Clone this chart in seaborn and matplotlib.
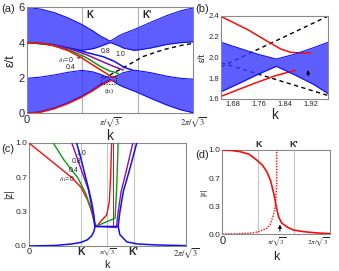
import numpy as np
import pandas as pd
import matplotlib
matplotlib.use("Agg")
import matplotlib.pyplot as plt
import seaborn as sns
from matplotlib.patches import Rectangle

sns.set_theme(style="white")
plt.rcParams["font.family"] = ["Liberation Sans", "DejaVu Sans"]
plt.rcParams["mathtext.fontset"] = "stix"

KMAX = 2 * np.pi / np.sqrt(3)
KPT = 2 * np.pi / (3 * np.sqrt(3))
KPR = 4 * np.pi / (3 * np.sqrt(3))
HALF = np.pi / np.sqrt(3)

BLUE = "#1010f0"
BANDC = "#3a3aff"
RED = "#f01010"
GREEN = "#119911"
PURPLE = "#8a10a8"

# ---------------- panel (a) data ----------------
band_k = [0, 0.3, 0.6, 0.9, 1.2, 1.45, 1.6, 1.7, 1.76, 1.81, 1.86, 1.92, 2.0, 2.1, 2.35, 2.7, 3.05, 3.35, 3.628]
lower_top = [1.98, 2.05, 2.17, 2.32, 2.43, 2.34, 2.21, 2.11, 2.05, 1.99, 2.03, 2.09, 2.17, 2.30, 2.44, 2.30, 2.10, 1.98, 1.93]
lower_bot = [0.0, 0.1, 0.3, 0.6, 0.97, 1.35, 1.62, 1.75, 1.84, 1.91, 1.85, 1.76, 1.62, 1.5, 1.25, 0.85, 0.47, 0.2, 0.03]
upper_top = [6.0, 5.9, 5.7, 5.4, 5.03, 4.65, 4.38, 4.25, 4.16, 4.09, 4.15, 4.24, 4.38, 4.5, 4.75, 5.15, 5.53, 5.8, 5.97]
upper_bot = [4.02, 3.95, 3.83, 3.68, 3.57, 3.66, 3.79, 3.89, 3.95, 4.01, 3.97, 3.91, 3.83, 3.70, 3.56, 3.70, 3.90, 4.0, 4.05]

red_top_k = [0, 0.3, 0.6, 0.9, 1.16, 1.4, 1.642, 1.726, 1.787, 1.828, 1.859, 1.89, 1.92]
red_top_e = [4.0, 3.96, 3.82, 3.55, 3.2, 2.8, 2.40, 2.27, 2.157, 2.083, 2.05, 2.044, 2.045]
red_bot_k = [0, 0.3, 0.6, 0.9, 1.2, 1.45, 1.642, 1.747, 1.808, 1.859, 1.874]
red_bot_e = [0.0, 0.06, 0.26, 0.55, 0.92, 1.3, 1.622, 1.75, 1.82, 1.865, 1.875]
green_k = [0, 0.5, 1.0, 1.3, 1.6, 1.81, 1.95, 2.0]
green_e = [4.0, 3.9, 3.5, 3.15, 2.66, 2.39, 2.3, 2.22]
purple_k = [0, 0.5, 1.0, 1.3, 1.6, 1.85, 2.1]
purple_e = [4.0, 3.92, 3.6, 3.32, 2.98, 2.7, 2.45]
blue_k = [0, 0.5, 1.0, 1.4, 1.67, 1.9, 2.14, 2.3]
blue_e = [4.0, 3.93, 3.65, 3.38, 3.2, 2.95, 2.58, 2.45]
dash_k = [1.66, 1.975, 2.2, 2.54, 2.975, 3.41, 3.628]
dash_e = [1.935, 2.40, 2.72, 3.22, 3.60, 3.87, 3.96]

# ---------------- panel (b) data ----------------
b_k = [1.645, 1.70, 1.76, 1.815, 1.87, 1.93, 1.975]
b_top = [2.147, 2.09, 2.03, 1.985, 2.03, 2.095, 2.147]
b_bot = [1.67, 1.75, 1.84, 1.915, 1.835, 1.74, 1.65]
b_up_k = [1.645, 1.975]
b_up_e = [1.91, 2.40]
b_dn_k = [1.645, 1.975]
b_dn_e = [1.95, 1.633]

# ---------------- panel (c) data ----------------
c_red_k = [0, 0.5, 1.0, 1.2, 1.35, 1.45, 1.52, 1.564, 1.68, 1.795, 1.856, 1.888, 1.91]
c_red_z = [1.0, 0.83, 0.66, 0.57, 0.45, 0.33, 0.22, 0.19, 0.25, 0.30, 0.43, 0.69, 1.0]
c_red2_k = [1.934, 1.934]
c_red2_z = [0.2, 1.0]
c_green_k = [0.56, 0.8, 1.13, 1.3, 1.42, 1.5, 1.54, 1.99, 2.03, 2.06]
c_green_z = [1.0, 0.84, 0.66, 0.52, 0.38, 0.25, 0.19, 0.27, 0.6, 1.0]
c_purple_k = [0.99, 1.2, 1.37, 1.45, 1.52, 2.02, 2.06, 2.13, 2.26, 2.40]
c_purple_z = [1.0, 0.75, 0.55, 0.38, 0.19, 0.18, 0.33, 0.53, 0.75, 1.0]
c_blue_k = [1.10, 1.2, 1.3, 1.38, 1.45, 1.5, 1.525, 2.06, 2.10, 2.18, 2.33, 2.49]
c_blue_z = [1.0, 0.85, 0.68, 0.55, 0.42, 0.3, 0.19, 0.19, 0.33, 0.53, 0.75, 1.0]
c_blue_lo_k = [0, 0.6, 1.0, 1.2, 1.35, 1.45, 1.5, 1.525]
c_blue_lo_z = [0.0, 0.005, 0.02, 0.035, 0.06, 0.1, 0.14, 0.19]
c_blue_ro_k = [2.06, 2.10, 2.26, 2.5, 2.95, 3.628]
c_blue_ro_z = [0.19, 0.11, 0.04, 0.02, 0.01, 0.003]

# ---------------- panel (d) data ----------------
d_k = [0, 0.3, 0.6, 0.9, 1.16, 1.35, 1.5, 1.62, 1.72, 1.78, 1.82, 1.85, 1.9, 2.0, 2.2, 2.39, 2.7, 2.95, 3.3, 3.628]
d_solid = [1.0, 0.995, 0.98, 0.95, 0.88, 0.82, 0.74, 0.64, 0.50, 0.40, 0.32, 0.27, 0.2, 0.13, 0.08, 0.048, 0.03, 0.02, 0.01, 0.005]
d_dot_k = [0, 0.5, 0.94, 1.2, 1.5, 1.62, 1.72, 1.78, 1.81, 1.83, 1.83]
d_dot_z = [0.0, 0.003, 0.01, 0.025, 0.067, 0.12, 0.23, 0.33, 0.45, 0.6, 1.0]

ztick_vals = [0, 1 / 3, 2 / 3, 1.0]
ztick_labels = ["0.0", "0.3", "0.7", "1.0"]


def line(ax, k, v, color, lw=1.0, ls="-", z=3):
    sns.lineplot(x=k, y=v, ax=ax, color=color, lw=lw, linestyle=ls, sort=False,
                 estimator=None, legend=False, zorder=z)


def style(ax):
    for s in ax.spines.values():
        s.set_color("#8a8a8a")
        s.set_linewidth(0.8)
    ax.tick_params(length=0, pad=1.5)
    ax.set_xlabel("")
    ax.set_ylabel("")


fig = plt.figure(figsize=(3.39, 2.71), dpi=100)
axA = fig.add_axes([0.0788, 0.5819, 0.4914, 0.3911])
axB = fig.add_axes([0.652, 0.6347, 0.3165, 0.3063])
axC = fig.add_axes([0.0855, 0.0923, 0.4631, 0.3801])
axD = fig.add_axes([0.6558, 0.1365, 0.3177, 0.31])

# ---- (a)
ax = axA
for kv in (KPT, KPR):
    ax.axvline(kv, color="#b0b0b0", lw=0.8, zorder=1)
line(ax, dash_k, dash_e, "black", lw=1.0, ls=(0, (3, 2.5)), z=1.8)
ax.fill_between(band_k, lower_bot, lower_top, color=BANDC, alpha=0.82, lw=0, zorder=2)
ax.fill_between(band_k, upper_bot, upper_top, color=BANDC, alpha=0.82, lw=0, zorder=2)
for arr in (lower_bot, lower_top, upper_bot, upper_top):
    line(ax, band_k, arr, BLUE, lw=0.8, z=2.5)
line(ax, blue_k, blue_e, BLUE, lw=1.1)
line(ax, purple_k, purple_e, PURPLE, lw=1.1)
line(ax, green_k, green_e, GREEN, lw=1.1)
line(ax, red_top_k, red_top_e, RED, lw=1.1, z=3.2)
line(ax, red_bot_k, red_bot_e, RED, lw=1.1, z=3.2)
ax.add_patch(Rectangle((1.62, 1.65), 0.33, 0.47, fill=False, ec="black", lw=0.7, ls=":", zorder=4))
ax.text(1.80, 1.25, "(b)", fontsize=4.5, ha="center", va="center", family="DejaVu Serif")
ax.text(KPT + 0.1, 5.55, "K", fontsize=7, fontweight="bold", ha="left", va="center")
ax.text(KPR + 0.1, 5.55, "K'", fontsize=7, fontweight="bold", ha="left", va="center")
ax.annotate(r"$\delta_1$=0", xy=(1.15, 3.2), xytext=(0.85, 3.0), fontsize=5,
            ha="center", va="center", arrowprops=dict(arrowstyle="-", lw=0.5, color="black"))
ax.annotate("0.4", xy=(1.2, 3.3), xytext=(0.95, 2.58), fontsize=5,
            ha="center", va="center", arrowprops=dict(arrowstyle="-", lw=0.5, color="black"))
ax.text(1.72, 3.5, "0.8", fontsize=5, ha="center", va="center")
ax.annotate("1.0", xy=(1.85, 3.0), xytext=(2.03, 3.32), fontsize=5,
            ha="center", va="center", arrowprops=dict(arrowstyle="-", lw=0.5, color="black"))
ax.set_xlim(0, KMAX)
ax.set_ylim(0, 6)
ax.set_yticks([0, 2, 4, 6])
ax.set_yticklabels(["0", "2", "4", "6"], fontsize=8)
ax.set_xticks([0, HALF, KMAX])
ax.set_xticklabels(["0", r"$\pi/\sqrt{3}$", r"$2\pi/\sqrt{3}$"])
style(ax)
labs = ax.get_xticklabels()
labs[0].set_fontsize(8)
labs[1].set_fontsize(6)
labs[2].set_fontsize(6)
ax.set_ylabel(r"ε/t", fontsize=9, labelpad=1)
ax.set_xlabel("k", fontsize=10, labelpad=0)

# ---- (b)
ax = axB
line(ax, b_up_k, b_up_e, "black", lw=1.0, ls=(0, (3, 2.5)), z=1.8)
line(ax, b_dn_k, b_dn_e, "black", lw=1.0, ls=(0, (3, 2.5)), z=1.8)
ax.fill_between(b_k, b_bot, b_top, color=BANDC, alpha=0.82, lw=0, zorder=2)
line(ax, b_k, b_top, BLUE, lw=0.8, z=2.5)
line(ax, b_k, b_bot, BLUE, lw=0.8, z=2.5)
line(ax, red_top_k, red_top_e, RED, lw=1.1, z=2.2)
line(ax, red_bot_k, red_bot_e, RED, lw=1.1, z=2.2)
ax.annotate("", xy=(1.913, 1.905), xytext=(1.913, 1.795),
            arrowprops=dict(arrowstyle="-|>", lw=0.7, color="black", mutation_scale=5), zorder=5)
ax.set_xlim(1.645, 1.975)
ax.set_ylim(1.6, 2.4)
ax.set_xticks([1.68, 1.76, 1.84, 1.92])
ax.set_xticklabels(["1.68", "1.76", "1.84", "1.92"], fontsize=5.5)
ax.set_yticks([1.6, 1.8, 2.0, 2.2, 2.4])
ax.set_yticklabels(["1.6", "1.8", "2.0", "2.2", "2.4"], fontsize=5.5)
style(ax)
ax.set_ylabel(r"ε/t", fontsize=6.5, labelpad=1)
ax.set_xlabel("k", fontsize=10, labelpad=0)

# ---- (c)
ax = axC
for kv in (KPT, HALF, KPR):
    ax.axvline(kv, color="#c8c8c8", lw=0.8, zorder=1)
line(ax, c_red_k, c_red_z, RED, lw=1.0)
line(ax, c_red2_k, c_red2_z, RED, lw=0.8)
line(ax, c_green_k, c_green_z, GREEN, lw=1.0)
line(ax, c_purple_k, c_purple_z, PURPLE, lw=1.0)
line(ax, c_blue_k, c_blue_z, BLUE, lw=1.1, z=3.5)
line(ax, c_blue_lo_k, c_blue_lo_z, BLUE, lw=1.1, z=3.5)
line(ax, c_blue_ro_k, c_blue_ro_z, BLUE, lw=1.1, z=3.5)
ax.text(1.2, 0.90, "1.0", fontsize=5, ha="center", va="center")
ax.text(1.11, 0.82, "0.8", fontsize=5, ha="center", va="center")
ax.text(1.02, 0.735, "0.4", fontsize=5, ha="center", va="center")
ax.text(0.88, 0.645, r"$\delta_1$=0", fontsize=5, ha="center", va="center")
ax.set_xlim(0, KMAX)
ax.set_ylim(0, 1.0)
ax.set_yticks(ztick_vals)
ax.set_yticklabels(ztick_labels, fontsize=6)
ax.set_xticks([0, KPT, HALF, KPR, KMAX])
ax.set_xticklabels(["0", "K", r"$\pi/\sqrt{3}$", "K'", r"$2\pi/\sqrt{3}$"])
style(ax)
ax.tick_params(axis="x", pad=0.5)
labs = ax.get_xticklabels()
labs[0].set_fontsize(6.5)
for i in (1, 3):
    labs[i].set_fontsize(7.5)
    labs[i].set_fontweight("bold")
labs[2].set_fontsize(4.6)
labs[4].set_fontsize(6)
ax.set_ylabel("|z|", fontsize=7, labelpad=1)
ax.set_xlabel("k", fontsize=8)
ax.xaxis.set_label_coords(0.5, -0.135)

# ---- (d)
ax = axD
for kv in (KPT, KPR):
    ax.axvline(kv, color="#c8c8c8", lw=0.8, zorder=1)
line(ax, d_k, d_solid, RED, lw=1.2)
line(ax, d_dot_k, d_dot_z, RED, lw=1.0, ls=(0, (1, 1)))
ax.annotate("", xy=(1.94, 0.145), xytext=(1.94, 0.0),
            arrowprops=dict(arrowstyle="-|>", lw=0.7, color="black", mutation_scale=5), zorder=5)
ax.text(KPT, 1.06, "K", fontsize=6.5, fontweight="bold", ha="center", va="center")
ax.text(KPR, 1.06, "K'", fontsize=6.5, fontweight="bold", ha="center", va="center")
ax.set_xlim(0, KMAX)
ax.set_ylim(0, 1.0)
ax.set_yticks(ztick_vals)
ax.set_yticklabels(ztick_labels, fontsize=6)
ax.set_xticks([0, HALF, KMAX])
ax.set_xticklabels(["0", r"$\pi/\sqrt{3}$", r"$2\pi/\sqrt{3}$"])
style(ax)
labs = ax.get_xticklabels()
labs[0].set_fontsize(8)
labs[1].set_fontsize(5)
labs[2].set_fontsize(5)
labs[2].set_horizontalalignment("right")
ax.set_ylabel("|z|", fontsize=5, labelpad=1)
ax.set_xlabel("k", fontsize=9, labelpad=1)

fig.text(0.005, 0.985, "(a)", fontsize=8, ha="left", va="top")
fig.text(0.575, 0.985, "(b)", fontsize=8, ha="left", va="top")
fig.text(0.005, 0.47, "(c)", fontsize=8, ha="left", va="top")
fig.text(0.575, 0.445, "(d)", fontsize=8, ha="left", va="top")

fig.savefig("out.png", dpi=100)
